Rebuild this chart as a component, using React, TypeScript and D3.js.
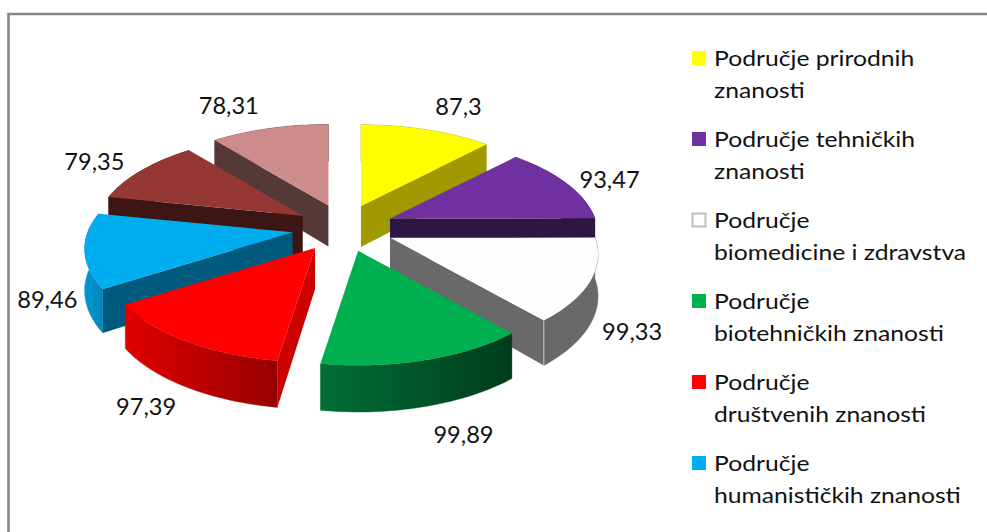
import React from "react";
import * as d3 from "d3";

const sliceValues = [87.3, 93.47, 99.33, 99.89, 97.39, 89.46, 79.35, 78.31];
const sliceLabels = ["87,3", "93,47", "99,33", "99,89", "97,39", "89,46", "79,35", "78,31"];
const topColors = ["#FFFF00", "#7030A0", "#FDFDFD", "#00B050", "#FF0000", "#00AEEF", "#953735", "#CD8C8C"];
const wallColors = ["#A09A00", "#2D1545", "#696969", "#00B050", "#CC0000", "#005A7D", "#3D1515", "#553838"];
const rimFromColors = ["#A09A00", "#2D1545", "#696969", "#006F36", "#E00000", "#0096D0", "#3D1515", "#553838"];
const rimToColors = ["#A09A00", "#2D1545", "#696969", "#003C1C", "#960000", "#0088BC", "#3D1515", "#553838"];
const labelNudgeX = [1, -18, 7, 35, -28, 9, 16, -11];
const labelNudgeY = [-2, 3, 15, 0, -1, 33, 1, -1];
const apexNudgeX = [-1, 0, 0.4, 1, 0, 0, 3.5, 2.5];

const legendLines = [
  ["Područje prirodnih", "znanosti"],
  ["Područje tehničkih", "znanosti"],
  ["Područje", "biomedicine i zdravstva"],
  ["Područje", "biotehničkih znanosti"],
  ["Područje", "društvenih znanosti"],
  ["Područje", "humanističkih znanosti"],
];

const W = 987, H = 532;
const cx = 343, cy = 228, RX = 205, RY = 95, EXPLODE = 0.25, PERSP = 0.17, DEPTH = 41;
const font = "Lato, Carlito, 'Open Sans', sans-serif";

const line = d3.line<[number, number]>();

export default function App() {
  const arcs = d3.pie<number>().sort(null).startAngle(0).endAngle(2 * Math.PI)(sliceValues);

  const slices = arcs.map((a, i) => {
    const mid = (a.startAngle + a.endAngle) / 2;
    const ax = cx + EXPLODE * RX * Math.sin(mid) + apexNudgeX[i];
    const ay = cy - EXPLODE * RY * Math.cos(mid);
    const persp = (t: number) => 1 / (1 + PERSP * Math.cos(t));
    const rim = (t: number): [number, number] => [
      ax + RX * Math.sin(t) * persp(t),
      ay - RY * Math.cos(t) * persp(t),
    ];
    const drop = (t: number) => DEPTH * Math.pow(persp(t), 0.7);
    const ts = d3.range(0, 41).map((k) => a.startAngle + ((a.endAngle - a.startAngle) * k) / 40);
    const rimPts = ts.map(rim);
    const rimLow = ts.map((t) => { const p = rim(t); return [p[0], p[1] + drop(t)] as [number, number]; });
    const top = line([[ax, ay], ...rimPts])! + "Z";
    const rimWall = line([...rimPts, ...[...rimLow].reverse()])! + "Z";
    const wallAt = (t: number) => {
      const p = rim(t);
      return line([[ax, ay], p, [p[0], p[1] + drop(t)], [ax, ay + DEPTH]])! + "Z";
    };
    const walls: string[] = [];
    if (Math.sin(a.startAngle) < 0) walls.push(wallAt(a.startAngle));
    if (Math.sin(a.endAngle) > 0) walls.push(wallAt(a.endAngle));
    const xs = rimPts.map((p) => p[0]);
    const lx = cx + 310 * Math.sin(mid) + labelNudgeX[i];
    const ly = cy - (Math.cos(mid) > 0 ? 128 : 215) * Math.cos(mid) + labelNudgeY[i] + 8;
    const endP = rim(a.endAngle);
    const seam = line([endP, [endP[0], endP[1] + drop(a.endAngle)]])!;
    return { i, ay, top, rimWall, walls, x0: d3.min(xs)!, x1: d3.max(xs)!, lx, ly, seam };
  });

  const ordered = [...slices].sort((p, q) => p.ay - q.ay);

  return (
    <svg width={W} height={H} style={{ position: "absolute", left: 0, top: 0, display: "block", background: "#fff" }}>
      <defs>
        {slices.map((s) => (
          <linearGradient key={s.i} id={`rim${s.i}`} gradientUnits="userSpaceOnUse" x1={s.x0} x2={s.x1} y1={0} y2={0}>
            <stop offset="0" stopColor={rimFromColors[s.i]} />
            <stop offset="1" stopColor={rimToColors[s.i]} />
          </linearGradient>
        ))}
      </defs>
      <path d={`M8.5,${H}V14H${W}`} fill="none" stroke="#868686" strokeWidth={2.6} />
      {ordered.map((s) => (
        <g key={s.i}>
          <path d={s.rimWall} fill={`url(#rim${s.i})`} stroke={`url(#rim${s.i})`} strokeWidth={0.4} />
          {s.walls.map((d, k) => (
            <path key={k} d={d} fill={wallColors[s.i]} />
          ))}
          {topColors[s.i] === "#FDFDFD" && <path d={s.seam} fill="none" stroke="#C8C8C8" strokeWidth={1} />}
          <path d={s.top} fill={topColors[s.i]} />
        </g>
      ))}
      {slices.map((s) => (
        <text key={s.i} textAnchor="middle" fontFamily={font} fontSize={22.5} fill="#111"
          transform={`translate(${s.lx},${s.ly}) scale(1.05,1)`}>
          {sliceLabels[s.i]}
        </text>
      ))}
      {legendLines.map((lines, i) => {
        const y0 = 51 + i * 81;
        const white = topColors[i] === "#FDFDFD";
        return (
          <g key={i}>
            <rect x={white ? 692.5 : 692} y={white ? y0 + 0.5 : y0} width={white ? 13 : 14} height={white ? 13 : 14}
              fill={topColors[i]} stroke={white ? "#BEBEBE" : "none"} strokeWidth={white ? 2 : 0} />
            {lines.map((t, k) => (
              <text key={k} fontFamily={font} fontSize={21} fill="#111"
                transform={`translate(714,${y0 + 15 + k * 31.5}) scale(1.175,1)`}>{t}</text>
            ))}
          </g>
        );
      })}
    </svg>
  );
}
